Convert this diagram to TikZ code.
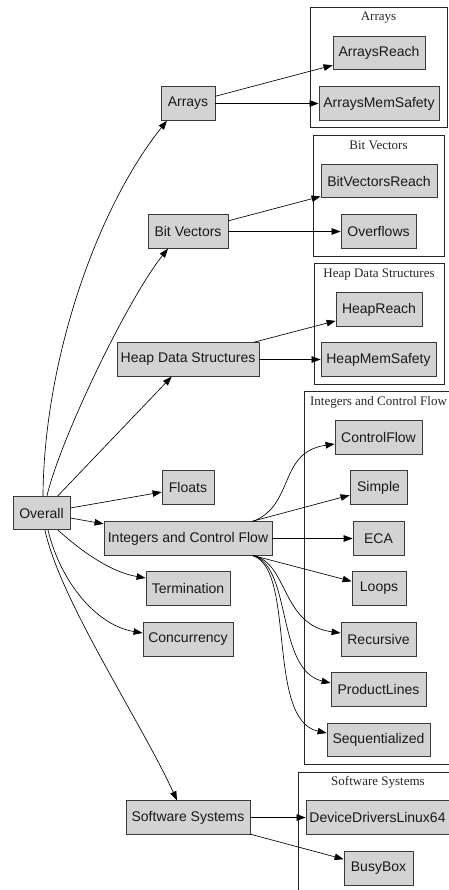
\documentclass[tikz,border=0pt]{standalone}
\usepackage{fontspec}
\setmainfont{Liberation Serif}
\newfontfamily\nodefont{Liberation Sans}
\usetikzlibrary{arrows.meta}
\definecolor{nodefill}{HTML}{D3D3D3}
\definecolor{nodeline}{HTML}{3A3A3A}
\tikzset{
  box/.style={draw=nodeline, fill=nodefill, line width=0.8pt, minimum height=33.5pt,
    inner sep=0pt, font=\nodefont\fontsize{14}{16}\selectfont, text=black!90},
  clusterbox/.style={draw=black!85, line width=0.7pt},
  clusterlabel/.style={font=\fontsize{13}{15}\selectfont, inner sep=0pt, text=black!85},
  edge/.style={draw=black, line width=0.65pt, -{Triangle[length=9pt,width=6.5pt]}}
}
\begin{document}
\begin{tikzpicture}[x=1pt,y=-1pt]
\useasboundingbox (0,0) rectangle (449,890);
\clip (0,0) rectangle (449,890);
% clusters
\draw[clusterbox] (310,7) rectangle (447,127);
\node[clusterlabel] (cArrays) at (378.5,18) {Arrays};
\draw[clusterbox] (313,135) rectangle (444,256);
\node[clusterlabel] (cBV) at (378.5,145.5) {Bit Vectors};
\draw[clusterbox] (314,263) rectangle (444,384);
\node[clusterlabel] (cHeap) at (379,274.5) {Heap Data Structures};
\draw[clusterbox] (304,391) rectangle (460,764);
\node[clusterlabel] (cInt) at (378.5,402.5) {Integers and Control Flow};
\draw[clusterbox] (298,772) rectangle (460,900);
\node[clusterlabel] (cSW) at (378,782.5) {Software Systems};
% nodes
\node[box, minimum width=54pt] (Arrays) at (188,103.5) {Arrays};
\node[box, minimum width=92pt] (ArraysReach) at (379,53) {ArraysReach};
\node[box, minimum width=120pt] (ArraysMemSafety) at (379,103.5) {ArraysMemSafety};
\node[box, minimum width=80pt] (BitVectors) at (188,231.5) {Bit Vectors};
\node[box, minimum width=116pt] (BitVectorsReach) at (379,181) {BitVectorsReach};
\node[box, minimum width=75pt] (Overflows) at (378.5,231.5) {Overflows};
\node[box, minimum width=142pt] (Heap) at (188,359.5) {Heap Data Structures};
\node[box, minimum width=86pt] (HeapReach) at (379,309.5) {HeapReach};
\node[box, minimum width=115pt] (HeapMemSafety) at (378.5,359.5) {HeapMemSafety};
\node[box, minimum width=87pt] (ControlFlow) at (378.5,437.5) {ControlFlow};
\node[box, minimum width=52pt] (Floats) at (188,487.5) {Floats};
\node[box, minimum width=57pt] (Simple) at (378.5,487.5) {Simple};
\node[box, minimum width=57pt] (Overall) at (41.5,513) {Overall};
\node[box, minimum width=168pt] (Integers) at (188,538.5) {Integers and Control Flow};
\node[box, minimum width=51pt] (ECA) at (378.5,538.5) {ECA};
\node[box, minimum width=84pt] (Termination) at (188,588.5) {Termination};
\node[box, minimum width=54pt] (Loops) at (379,588.5) {Loops};
\node[box, minimum width=90pt] (Concurrency) at (188,639.5) {Concurrency};
\node[box, minimum width=75pt] (Recursive) at (378.5,639.5) {Recursive};
\node[box, minimum width=95pt] (ProductLines) at (378.5,689.5) {ProductLines};
\node[box, minimum width=103pt] (Sequentialized) at (378.5,740) {Sequentialized};
\node[box, minimum width=124pt] (Software) at (188,817.5) {Software Systems};
\node[box, minimum width=143pt] (DeviceDrivers) at (377.5,817.5) {DeviceDriversLinux64};
\node[box, minimum width=69pt] (BusyBox) at (378.5,868.5) {BusyBox};
% edges from Overall
\draw[edge] ([xshift=1.5pt]Overall.north) .. controls (44,360) and (97,208) .. ([xshift=-21pt]Arrays.south);
\draw[edge] ([xshift=5.5pt]Overall.north) .. controls (60,440) and (127,300) .. ([xshift=-20pt]BitVectors.south);
\draw[edge] (Overall) -- (Heap);
\draw[edge] (Overall) -- (Floats);
\draw[edge] (Overall) -- (Integers);
\draw[edge] ([xshift=16.5pt]Overall.south) .. controls (80,550) and (110,572) .. ([yshift=10.5pt]Termination.west);
\draw[edge] ([xshift=6.5pt]Overall.south) .. controls (60,580) and (95,625) .. ([yshift=6.5pt]Concurrency.west);
\draw[edge] ([xshift=3.5pt]Overall.south) .. controls (60,600) and (140,720) .. ([xshift=-11pt]Software.north);
% cluster edges
\draw[edge] (Arrays) -- (ArraysReach);
\draw[edge] (Arrays) -- (ArraysMemSafety);
\draw[edge] (BitVectors) -- (BitVectorsReach);
\draw[edge] (BitVectors) -- (Overflows);
\draw[edge] (Heap) -- (HeapReach);
\draw[edge] (Heap) -- (HeapMemSafety);
\draw[edge] ([xshift=65pt]Integers.north) .. controls (295,505) and (278,452) .. ([yshift=-6.5pt]ControlFlow.west);
\draw[edge] (Integers) -- (Simple);
\draw[edge] (Integers) -- (ECA);
\draw[edge] (Integers) -- (Loops);
\draw[edge] ([xshift=65pt]Integers.south) .. controls (288,562) and (281,625) .. ([yshift=6.5pt]Recursive.west);
\draw[edge] ([xshift=65pt]Integers.south) .. controls (292,566) and (276,670) .. ([yshift=6.5pt]ProductLines.west);
\draw[edge] ([xshift=65pt]Integers.south) .. controls (296,570) and (266,720) .. ([yshift=7pt]Sequentialized.west);
\draw[edge] (Software) -- (DeviceDrivers);
\draw[edge] (Software) -- (BusyBox);
\end{tikzpicture}
\end{document}
